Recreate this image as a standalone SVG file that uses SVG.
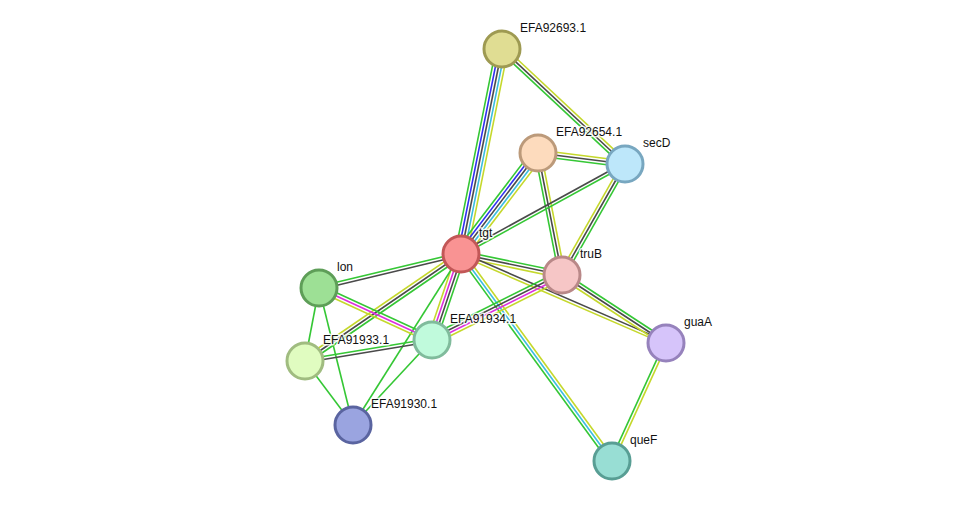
<svg xmlns="http://www.w3.org/2000/svg" width="975" height="507" viewBox="0 0 975 507">
<style>
.e line{stroke-width:1.6;fill:none}
.g{stroke:#35c735}
.b{stroke:#3030f0}
.k{stroke:#4a4a4a}
.c{stroke:#3cbde0}
.y{stroke:#c5d82c}
.m{stroke:#dd2edd}
.n circle{stroke-width:3}
.n text{font-family:"Liberation Sans",Arial,sans-serif;font-size:12px;fill:#111;stroke:#fff;stroke-width:3;stroke-opacity:0.8;paint-order:stroke;stroke-linejoin:round}
</style>
<rect width="975" height="507" fill="#fff"/>
<g id="connectors" class="e">
<!-- tgt - EFA92693.1 -->
<g><line x1="461" y1="254" x2="502" y2="49" class="g" transform="translate(-5.89,-1.18)"/><line x1="461" y1="254" x2="502" y2="49" class="b" transform="translate(-2.94,-0.59)"/><line x1="461" y1="254" x2="502" y2="49" class="k"/><line x1="461" y1="254" x2="502" y2="49" class="c" transform="translate(2.94,0.59)"/><line x1="461" y1="254" x2="502" y2="49" class="y" transform="translate(5.89,1.18)"/></g>
<!-- EFA92693.1 - secD -->
<g><line x1="502" y1="49" x2="625" y2="164" class="y" transform="translate(2.05,-2.19)"/><line x1="502" y1="49" x2="625" y2="164" class="k"/><line x1="502" y1="49" x2="625" y2="164" class="g" transform="translate(-2.05,2.19)"/></g>
<!-- EFA92654.1 - secD -->
<g><line x1="538" y1="153" x2="625" y2="164" class="y" transform="translate(0.38,-2.98)"/><line x1="538" y1="153" x2="625" y2="164" class="k"/><line x1="538" y1="153" x2="625" y2="164" class="g" transform="translate(-0.38,2.98)"/></g>
<!-- tgt - EFA92654.1 -->
<g><line x1="461" y1="254" x2="538" y2="153" class="g" transform="translate(-4.77,-3.64)"/><line x1="461" y1="254" x2="538" y2="153" class="b" transform="translate(-2.39,-1.82)"/><line x1="461" y1="254" x2="538" y2="153" class="k"/><line x1="461" y1="254" x2="538" y2="153" class="c" transform="translate(2.39,1.82)"/><line x1="461" y1="254" x2="538" y2="153" class="y" transform="translate(4.77,3.64)"/></g>
<!-- EFA92654.1 - truB -->
<g><line x1="538" y1="153" x2="562" y2="275" class="g" transform="translate(-2.94,0.58)"/><line x1="538" y1="153" x2="562" y2="275" class="k"/><line x1="538" y1="153" x2="562" y2="275" class="y" transform="translate(2.94,-0.58)"/></g>
<!-- secD - tgt -->
<g><line x1="625" y1="164" x2="461" y2="254" class="k" transform="translate(-0.72,-1.32)"/><line x1="625" y1="164" x2="461" y2="254" class="g" transform="translate(0.72,1.32)"/></g>
<!-- secD - truB -->
<g><line x1="625" y1="164" x2="562" y2="275" class="y" transform="translate(-2.61,-1.48)"/><line x1="625" y1="164" x2="562" y2="275" class="k"/><line x1="625" y1="164" x2="562" y2="275" class="g" transform="translate(2.61,1.48)"/></g>
<!-- tgt - truB -->
<g><line x1="461" y1="254" x2="562" y2="275" class="g" transform="translate(0.61,-2.94)"/><line x1="461" y1="254" x2="562" y2="275" class="k"/><line x1="461" y1="254" x2="562" y2="275" class="y" transform="translate(-0.61,2.94)"/></g>
<!-- tgt - guaA -->
<g><line x1="461" y1="254" x2="666" y2="343" class="k" transform="translate(0.60,-1.38)"/><line x1="461" y1="254" x2="666" y2="343" class="y" transform="translate(-0.60,1.38)"/></g>
<!-- truB - guaA -->
<g><line x1="562" y1="275" x2="666" y2="343" class="g" transform="translate(1.64,-2.51)"/><line x1="562" y1="275" x2="666" y2="343" class="k"/><line x1="562" y1="275" x2="666" y2="343" class="y" transform="translate(-1.64,2.51)"/></g>
<!-- tgt - lon -->
<g><line x1="461" y1="254" x2="319" y2="288" class="g" transform="translate(-0.35,-1.46)"/><line x1="461" y1="254" x2="319" y2="288" class="k" transform="translate(0.35,1.46)"/></g>
<!-- tgt - EFA91934.1 -->
<g><line x1="461" y1="254" x2="432" y2="340" class="y" transform="translate(-4.26,-1.44)"/><line x1="461" y1="254" x2="432" y2="340" class="m" transform="translate(-1.42,-0.48)"/><line x1="461" y1="254" x2="432" y2="340" class="k" transform="translate(1.42,0.48)"/><line x1="461" y1="254" x2="432" y2="340" class="g" transform="translate(4.26,1.44)"/></g>
<!-- tgt - EFA91933.1 -->
<g><line x1="461" y1="254" x2="305" y2="361" class="y" transform="translate(-1.70,-2.47)"/><line x1="461" y1="254" x2="305" y2="361" class="k"/><line x1="461" y1="254" x2="305" y2="361" class="g" transform="translate(1.70,2.47)"/></g>
<!-- tgt - EFA91930.1 -->
<line x1="461" y1="254" x2="353" y2="425" class="g"/>
<!-- tgt - queF -->
<g><line x1="461" y1="254" x2="612" y2="461" class="g" transform="translate(-2.42,1.77)"/><line x1="461" y1="254" x2="612" y2="461" class="c"/><line x1="461" y1="254" x2="612" y2="461" class="y" transform="translate(2.42,-1.77)"/></g>
<!-- lon - EFA91934.1 -->
<g><line x1="319" y1="288" x2="432" y2="340" class="g" transform="translate(1.25,-2.72)"/><line x1="319" y1="288" x2="432" y2="340" class="m"/><line x1="319" y1="288" x2="432" y2="340" class="y" transform="translate(-1.25,2.72)"/></g>
<!-- lon - EFA91933.1, lon - EFA91930.1 -->
<line x1="319" y1="288" x2="305" y2="361" class="g"/>
<line x1="319" y1="288" x2="353" y2="425" class="g"/>
<!-- EFA91933.1 - EFA91934.1 -->
<g><line x1="305" y1="361" x2="432" y2="340" class="g" transform="translate(-0.24,-1.48)"/><line x1="305" y1="361" x2="432" y2="340" class="k" transform="translate(0.24,1.48)"/></g>
<!-- EFA91933.1 - EFA91930.1, EFA91934.1 - EFA91930.1 -->
<line x1="305" y1="361" x2="353" y2="425" class="g"/>
<line x1="432" y1="340" x2="353" y2="425" class="g"/>
<!-- EFA91934.1 - truB -->
<g><line x1="432" y1="340" x2="562" y2="275" class="g" transform="translate(-2.01,-4.03)"/><line x1="432" y1="340" x2="562" y2="275" class="k" transform="translate(-0.67,-1.34)"/><line x1="432" y1="340" x2="562" y2="275" class="m" transform="translate(0.67,1.34)"/><line x1="432" y1="340" x2="562" y2="275" class="y" transform="translate(2.01,4.03)"/></g>
<!-- guaA - queF -->
<g><line x1="666" y1="343" x2="612" y2="461" class="g" transform="translate(-1.36,-0.62)"/><line x1="666" y1="343" x2="612" y2="461" class="y" transform="translate(1.36,0.62)"/></g>
</g>
<g id="EFA92693.1" class="n"><circle cx="502" cy="49" r="18" fill="#e0dd93" stroke="#9e9a52"/><text x="520" y="32">EFA92693.1</text></g>
<g id="EFA92654.1" class="n"><circle cx="538" cy="153" r="18" fill="#fddbbd" stroke="#bc9a7a"/><text x="556" y="136">EFA92654.1</text></g>
<g id="secD" class="n"><circle cx="625" cy="164" r="18" fill="#bde7fa" stroke="#78a7c0"/><text x="643" y="147">secD</text></g>
<g id="tgt" class="n"><circle cx="461" cy="254" r="18" fill="#f99393" stroke="#c25757"/><text x="479" y="237">tgt</text></g>
<g id="truB" class="n"><circle cx="562" cy="275" r="18" fill="#f6c6c6" stroke="#b98888"/><text x="580" y="258">truB</text></g>
<g id="lon" class="n"><circle cx="319" cy="288" r="18" fill="#9de095" stroke="#5e9e58"/><text x="337" y="271">lon</text></g>
<g id="EFA91934.1" class="n"><circle cx="432" cy="340" r="18" fill="#c0fadc" stroke="#80bb9c"/><text x="450" y="323">EFA91934.1</text></g>
<g id="EFA91933.1" class="n"><circle cx="305" cy="361" r="18" fill="#e0fcc0" stroke="#a0bc80"/><text x="323" y="344">EFA91933.1</text></g>
<g id="EFA91930.1" class="n"><circle cx="353" cy="425" r="18" fill="#9aa4e0" stroke="#5a64a0"/><text x="371" y="408">EFA91930.1</text></g>
<g id="guaA" class="n"><circle cx="666" cy="343" r="18" fill="#d6c4fa" stroke="#9682bc"/><text x="684" y="326">guaA</text></g>
<g id="queF" class="n"><circle cx="612" cy="461" r="18" fill="#98ded4" stroke="#589e94"/><text x="630" y="444">queF</text></g>
</svg>
